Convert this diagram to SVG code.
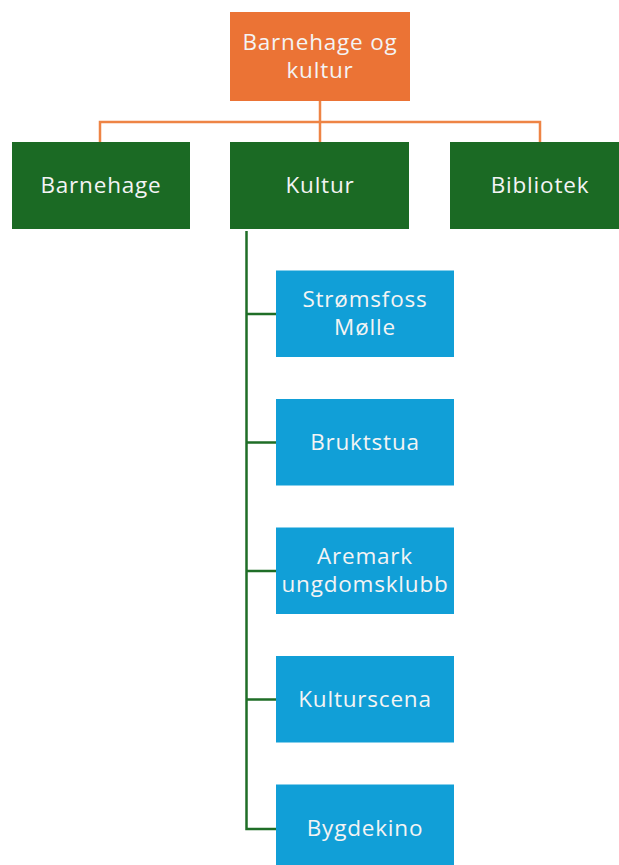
<svg xmlns="http://www.w3.org/2000/svg" width="619" height="865" viewBox="0 0 619 865">
<style>
text{font-family:"Open Sans","Liberation Sans",sans-serif;font-size:22.5px;letter-spacing:0.8px;fill:#F4F4F4;text-anchor:middle}
.o{fill:#EB7335}
.g{fill:#1B6A24}
.b{fill:#119FD7}
.co{stroke:#EE8445;stroke-width:2.5;fill:none}
.cg{stroke:#1F6E27;stroke-width:2.5;fill:none}
</style>
<rect width="619" height="865" fill="#FFFFFF"/>
<g id="connectors">
<path class="co" d="M320,101 V143 M100,143 V122 H540 V143"/>
<path class="cg" d="M246.5,231 V829 H276 M246.5,314 H276 M246.5,442.5 H276 M246.5,571 H276 M246.5,699.5 H276"/>
</g>
<g id="n0"><rect class="o" x="230" y="12" width="180" height="89"/><text x="320" y="50">Barnehage og</text><text x="320" y="78">kultur</text></g>
<g id="n1"><rect class="g" x="12" y="142" width="178" height="87"/><text x="101" y="193">Barnehage</text></g>
<g id="n2"><rect class="g" x="230" y="142" width="179" height="87"/><text x="320" y="193">Kultur</text></g>
<g id="n3"><rect class="g" x="450" y="142" width="179" height="87"/><text x="540" y="193">Bibliotek</text></g>
<g id="n4"><rect class="b" x="276" y="270.5" width="178" height="86.5"/><text x="365" y="307">Strømsfoss</text><text x="365" y="335">Mølle</text></g>
<g id="n5"><rect class="b" x="276" y="399" width="178" height="86.5"/><text x="365" y="450">Bruktstua</text></g>
<g id="n6"><rect class="b" x="276" y="527.5" width="178" height="86.5"/><text x="365" y="564">Aremark</text><text x="365" y="592">ungdomsklubb</text></g>
<g id="n7"><rect class="b" x="276" y="656" width="178" height="86.5"/><text x="365" y="707">Kulturscena</text></g>
<g id="n8"><rect class="b" x="276" y="784.5" width="178" height="86.5"/><text x="365" y="836">Bygdekino</text></g>
</svg>
